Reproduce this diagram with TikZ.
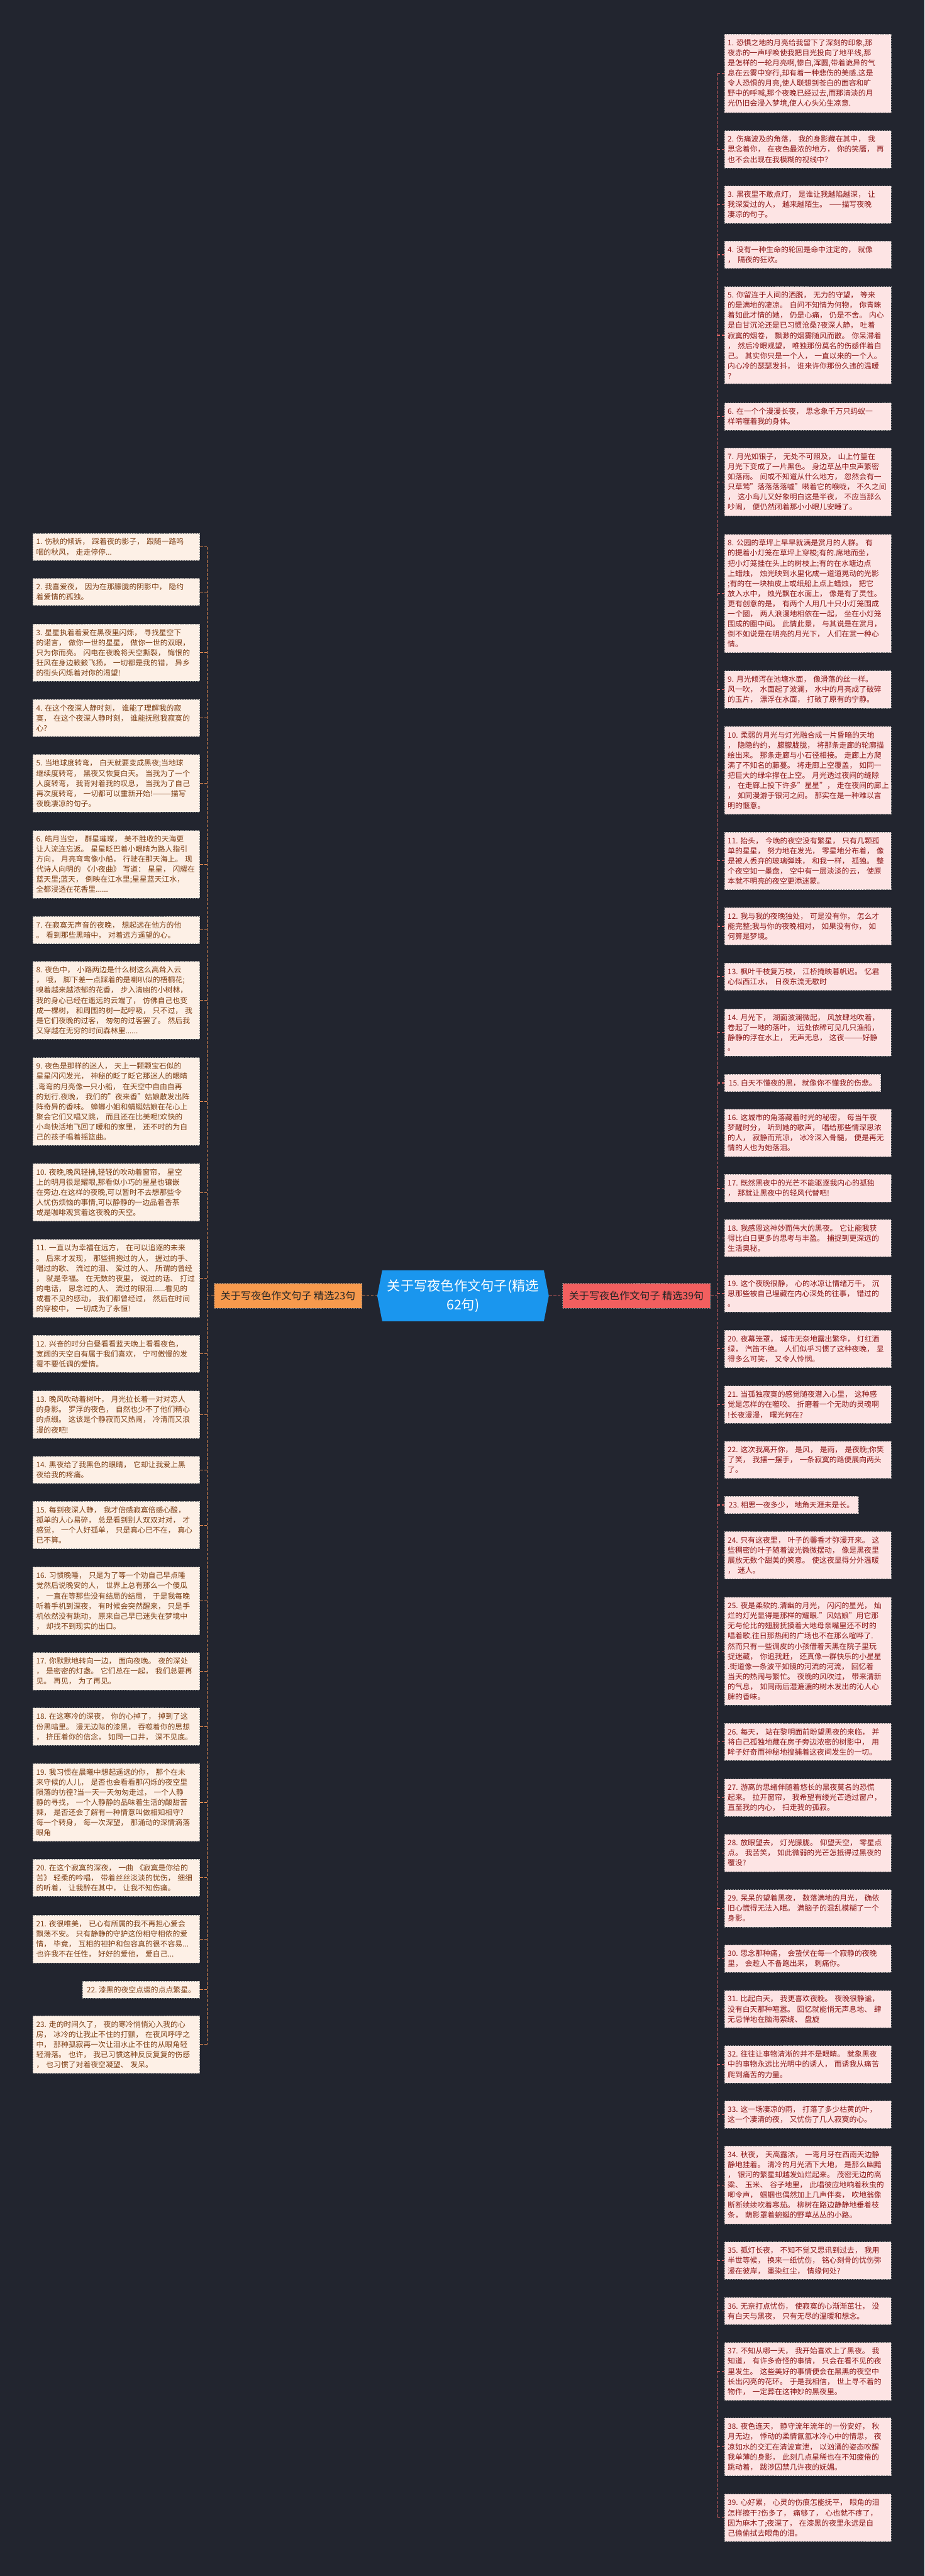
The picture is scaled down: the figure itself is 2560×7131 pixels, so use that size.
\documentclass[tikz,border=0pt]{standalone}
\usepackage{fontspec}
\setmainfont{Noto Sans CJK SC}
\usetikzlibrary{shapes.symbols}

\definecolor{bgnavy}{RGB}{34,37,47}
\definecolor{rootblue}{RGB}{26,150,238}
\definecolor{branchorange}{RGB}{247,154,77}
\definecolor{branchred}{RGB}{242,95,95}
\definecolor{lleaffill}{RGB}{253,240,230}
\definecolor{rleaffill}{RGB}{253,228,228}
\definecolor{ltext}{RGB}{125,62,20}
\definecolor{rtext}{RGB}{140,22,22}
\definecolor{lline}{RGB}{232,140,80}
\definecolor{rline}{RGB}{224,100,100}

\tikzset{
  leaf/.style={rectangle, draw=black!45, dash pattern=on 2pt off 1.5pt, line width=0.7pt,
    inner xsep=4.5pt, inner ysep=7pt, align=left, text width=222pt,
    font=\fontsize{10.3pt}{14pt}\selectfont},
  rleaf/.style={leaf, fill=rleaffill, text=rtext, anchor=west},
  lleaf/.style={leaf, fill=lleaffill, text=ltext, anchor=east},
  oneline/.style={text width={}, inner xsep=6pt},
  branch/.style={rectangle, draw=black!50, dash pattern=on 2pt off 1.5pt, line width=0.7pt,
    minimum width=204.5pt, minimum height=34pt, font=\fontsize{14pt}{16pt}\selectfont},
  link/.style={line width=1pt, dash pattern=on 4pt off 2pt}
}

\begin{document}
\begin{tikzpicture}[x=0.5pt, y=-0.5pt]
  \fill[bgnavy] (0,0) rectangle (2560,7131);

  % centre and branches
  \node[signal, signal to=west and east, signal pointer angle=158, fill=rootblue, text=white,
    minimum width=237.5pt, minimum height=70.5pt, inner sep=2pt, align=center,
    font=\fontsize{18.5pt}{26pt}\selectfont] (root) at (1282,3587) {关于写夜色作文句子(精选\\62句)};
  \node[branch, fill=branchorange, text=black!85] (lbranch) at (797.5,3587) {关于写夜色作文句子 精选23句};
  \node[branch, fill=branchred, text=black!85] (rbranch) at (1762,3587) {关于写夜色作文句子 精选39句};

  \coordinate (ltrunk) at (573,3587);
  \coordinate (rtrunk) at (1986,3587);

  % right leaves
  \node[rleaf] (r1) at (2005,203) {1.~恐惧之地的月亮给我留下了深刻的印象,那\\夜赤的一声呼唤使我把目光投向了地平线,那\\是怎样的一轮月亮啊,惨白,浑圆,带着诡异的气\\息在云雾中穿行,却有着一种悲伤的美感.这是\\令人恐惧的月亮,使人联想到苍白的面容和旷\\野中的呼喊,那个夜晚已经过去,而那清淡的月\\光仍旧会浸入梦境,使人心头沁生凉意.};
  \node[rleaf] (r2) at (2005,413.5) {2.~伤痛波及的角落，~我的身影藏在其中，~我\\思念着你，~在夜色最浓的地方，~你的笑靥，~再\\也不会出现在我模糊的视线中？};
  \node[rleaf] (r3) at (2005,566.5) {3.~黑夜里不敢点灯，~是谁让我越陷越深，~让\\我深爱过的人，~越来越陌生。~——描写夜晚\\凄凉的句子。};
  \node[rleaf] (r4) at (2005,705) {4.~没有一种生命的轮回是命中注定的，~就像\\，~隔夜的狂欢。};
  \node[rleaf] (r5) at (2005,928) {5.~你留连于人间的洒脱，~无力的守望，~等来\\的是满地的凄凉。~自问不知情为何物，~你青睐\\着如此才情的她，~仍是心痛，~仍是不舍。~内心\\是自甘沉沦还是已习惯沧桑?夜深人静，~吐着\\寂寞的烟卷，~飘渺的烟雾随风而散。~你呆滞着\\，~然后冷眼观望，~唯独那份莫名的伤感伴着自\\己。~其实你只是一个人，~一直以来的一个人。\\内心冷的瑟瑟发抖，~谁来许你那份久违的温暖\\？};
  \node[rleaf] (r6) at (2005,1153) {6.~在一个个漫漫长夜，~思念象千万只蚂蚁一\\样啃噬着我的身体。};
  \node[rleaf] (r7) at (2005,1334) {7.~月光如银子，~无处不可照及，~山上竹篁在\\月光下变成了一片黑色。~身边草丛中虫声繁密\\如落雨。~间或不知道从什么地方，~忽然会有一\\只草莺"落落落落嘘"啭着它的喉咙，~不久之间\\，~这小鸟儿又好象明白这是半夜，~不应当那么\\吵闹，~便仍然闭着那小小眼儿安睡了。};
  \node[rleaf] (r8) at (2005,1643) {8.~公园的草坪上早早就满是赏月的人群。~有\\的提着小灯笼在草坪上穿梭;有的.席地而坐，\\把小灯笼挂在头上的树枝上;有的在水塘边点\\上蜡烛，~烛光映到水里化成一道道晃动的光影\\;有的在一块柚皮上或纸船上点上蜡烛，~把它\\放入水中，~烛光飘在水面上，~像是有了灵性。\\更有创意的是，~有两个人用几十只小灯笼围成\\一个圈，~两人浪漫地相依在一起，~坐在小灯笼\\围成的圈中间。~此情此景，~与其说是在赏月，\\倒不如说是在明亮的月光下，~人们在赏一种心\\情。};
  \node[rleaf] (r9) at (2005,1909) {9.~月光倾泻在池塘水面，~像滑落的丝一样。\\风一吹，~水面起了波澜，~水中的月亮成了破碎\\的玉片，~漂浮在水面，~打破了原有的宁静。};
  \node[rleaf] (r10) at (2005,2132.5) {10.~柔弱的月光与灯光融合成一片昏暗的天地\\，~隐隐约约，~朦朦胧胧，~将那条走廊的轮廓描\\绘出来。~那条走廊与小石径相接。~走廊上方爬\\满了不知名的藤蔓。~将走廊上空覆盖，~如同一\\把巨大的绿伞撑在上空。~月光透过夜间的缝隙\\，~在走廊上投下许多"星星"，~走在夜间的廊上\\，~如同漫游于银河之间。~那实在是一种难以言\\明的惬意。};
  \node[rleaf] (r11) at (2005,2383) {11.~抬头，~今晚的夜空没有繁星，~只有几颗孤\\单的星星，~努力地在发光，~零星地分布着，~像\\是被人丢弃的玻璃弹珠，~和我一样，~孤独。~整\\个夜空如一墨盘，~空中有一层淡淡的云，~使原\\本就不明亮的夜空更添迷蒙。};
  \node[rleaf] (r12) at (2005,2564.5) {12.~我与我的夜晚独处，~可是没有你，~怎么才\\能完整;我与你的夜晚相对，~如果没有你，~如\\何算是梦境。};
  \node[rleaf] (r13) at (2005,2703.5) {13.~枫叶千枝复万枝，~江桥掩映暮帆迟。~忆君\\心似西江水，~日夜东流无歇时};
  \node[rleaf] (r14) at (2005,2858) {14.~月光下，~湖面波澜微起，~风放肆地吹着，\\卷起了一地的落叶，~远处依稀可见几只渔船，\\静静的浮在水上，~无声无息，~这夜———好静\\。};
  \node[rleaf, oneline] (r15) at (2005,2998) {15.~白天不懂夜的黑，~就像你不懂我的伤悲。};
  \node[rleaf] (r16) at (2005,3136) {16.~这城市的角落藏着时光的秘密，~每当午夜\\梦醒时分，~听到她的歌声，~唱给那些情深思浓\\的人，~寂静而荒凉，~冰冷深入骨髓，~便是再无\\情的人也为她落泪。};
  \node[rleaf] (r17) at (2005,3289) {17.~既然黑夜中的光芒不能驱逐我内心的孤独\\，~那就让黑夜中的轻风代替吧!};
  \node[rleaf] (r18) at (2005,3427.5) {18.~我感恩这神妙而伟大的黑夜。~它让能我获\\得比白日更多的思考与丰盈。~捕捉到更深远的\\生活奥秘。};
  \node[rleaf] (r19) at (2005,3580.5) {19.~这个夜晚很静，~心的冰凉让情绪万千，~沉\\思那些被自己埋藏在内心深处的往事，~错过的\\。};
  \node[rleaf] (r20) at (2005,3734) {20.~夜幕笼罩，~城市无奈地露出繁华，~灯红酒\\绿，~汽笛不绝。~人们似乎习惯了这种夜晚，~显\\得多么可笑，~又令人怜悯。};
  \node[rleaf] (r21) at (2005,3888.5) {21.~当孤独寂寞的感觉随夜潜入心里，~这种感\\觉是怎样的在噬咬、~折磨着一个无助的灵魂啊\\!长夜漫漫，~曙光何在?};
  \node[rleaf] (r22) at (2005,4041) {22.~这次我离开你，~是风，~是雨，~是夜晚;你笑\\了笑，~我摆一摆手，~一条寂寞的路便展向两头\\了。};
  \node[rleaf, oneline] (r23) at (2005,4166) {23.~相思一夜多少，~地角天涯未是长。};
  \node[rleaf] (r24) at (2005,4305) {24.~只有这夜里，~叶子的馨香才弥漫开来。~这\\些稠密的叶子随着波光微微摆动，~像是黑夜里\\展放无数个甜美的笑意。~使这夜显得分外温暖\\，~迷人。};
  \node[rleaf] (r25) at (2005,4571) {25.~夜是柔软的.清幽的月光，~闪闪的星光，~灿\\烂的灯光显得是那样的耀眼."风姑娘"用它那\\无与伦比的翅膀抚摸着大地母亲嘴里还不时的\\唱着歌.往日那热闹的广场也不在那么喧哗了.\\然而只有一些调皮的小孩借着天黑在院子里玩\\捉迷藏，~你追我赶，~还真像一群快乐的小星星\\.街道像一条波平如镜的河流的河流，~回忆着\\当天的热闹与繁忙。~夜晚的风吹过，~带来清新\\的气息，~如同雨后湿漉漉的树木发出的沁人心\\脾的香味。};
  \node[rleaf] (r26) at (2005,4822) {26.~每天，~站在黎明面前盼望黑夜的来临，~并\\将自己孤独地藏在房子旁边浓密的树影中，~用\\眸子好奇而神秘地搜捕着这夜间发生的一切。};
  \node[rleaf] (r27) at (2005,4976.5) {27.~游离的思绪伴随着悠长的黑夜莫名的恐慌\\起来。~拉开窗帘，~我希望有缕光芒透过窗户，\\直至我的内心，~扫走我的孤寂。};
  \node[rleaf] (r28) at (2005,5129.5) {28.~放眼望去，~灯光朦胧。~仰望天空，~零星点\\点。~我苦笑，~如此微弱的光芒怎抵得过黑夜的\\覆没?};
  \node[rleaf] (r29) at (2005,5282.5) {29.~呆呆的望着黑夜，~数落满地的月光，~确依\\旧心慌得无法入眠。~满脑子的混乱模糊了一个\\身影。};
  \node[rleaf] (r30) at (2005,5422) {30.~思念那种痛，~会蛰伏在每一个寂静的夜晚\\里，~会趁人不备跑出来，~刺痛你。};
  \node[rleaf] (r31) at (2005,5561.5) {31.~比起白天，~我更喜欢夜晚。~夜晚很静谧，\\没有白天那种喧嚣。~回忆就能悄无声息地、~肆\\无忌惮地在脑海萦绕、~盘旋};
  \node[rleaf] (r32) at (2005,5714.5) {32.~往往让事物清淅的并不是眼睛。~就象黑夜\\中的事物永远比光明中的诱人，~而诱我从痛苦\\爬到痛苦的力量。};
  \node[rleaf] (r33) at (2005,5853.5) {33.~这一场凄凉的雨，~打落了多少枯黄的叶，\\这一个凄清的夜，~又忧伤了几人寂寞的心。};
  \node[rleaf] (r34) at (2005,6048.5) {34.~秋夜，~天高露浓，~一弯月牙在西南天边静\\静地挂着。~清冷的月光洒下大地，~是那么幽黯\\，~银河的繁星却越发灿烂起来。~茂密无边的高\\粱、~玉米、~谷子地里，~此唱彼应地响着秋虫的\\唧令声，~蝈蝈也偶然加上几声伴奏，~吹地翁像\\断断续续吹着寒茄。~柳树在路边静静地垂着枝\\条，~荫影罩着蜿蜒的野草丛丛的小路。};
  \node[rleaf] (r35) at (2005,6258) {35.~孤灯长夜，~不知不觉又思讯到过去，~我用\\半世等候，~换来一纸忧伤，~铭心刻骨的忧伤弥\\漫在彼岸，~墨染红尘，~情缘何处?};
  \node[rleaf] (r36) at (2005,6397.5) {36.~无奈打点忧伤，~使寂寞的心渐渐茁壮，~没\\有白天与黑夜，~只有无尽的温暖和想念。};
  \node[rleaf] (r37) at (2005,6564.5) {37.~不知从哪一天，~我开始喜欢上了黑夜。~我\\知道，~有许多奇怪的事情，~只会在看不见的夜\\里发生。~这些美好的事情便会在黑黑的夜空中\\长出闪亮的花环。~于是我相信，~世上寻不着的\\物件，~一定葬在这神妙的黑夜里。};
  \node[rleaf] (r38) at (2005,6773.5) {38.~夜色连天，~静守流年流年的一份安好，~秋\\月无边，~悸动的柔情氤氲冰冷心中的情思，~夜\\凉如水的交汇在清波宣泄，~以汹涌的姿态吹醒\\我单薄的身影，~此刻几点星稀也在不知疲倦的\\跳动着，~跋涉囚禁几许夜的妩媚。};
  \node[rleaf] (r39) at (2005,6970) {39.~心好累，~心灵的伤痕怎能抚平，~眼角的泪\\怎样擦干?伤多了，~痛够了，~心也就不疼了，\\因为麻木了;夜深了，~在漆黑的夜里永远是自\\己偷偷拭去眼角的泪。};

  % left leaves
  \node[lleaf] (l1) at (554,1514) {1.~伤秋的倾诉，~踩着夜的影子，~跟随一路呜\\咽的秋风，~走走停停...};
  \node[lleaf] (l2) at (554,1638.5) {2.~我喜爱夜，~因为在那朦胧的阴影中，~隐约\\着爱情的孤独。};
  \node[lleaf] (l3) at (554,1806.5) {3.~星星执着着爱在黑夜里闪烁，~寻找星空下\\的诺言，~做你一世的星星，~做你一世的双眼，\\只为你而亮。~闪电在夜晚将天空撕裂，~悔恨的\\狂风在身边簌簌飞扬，~一切都是我的错，~异乡\\的街头闪烁着对你的渴望!};
  \node[lleaf] (l4) at (554,1988) {4.~在这个夜深人静时刻，~谁能了理解我的寂\\寞，~在这个夜深人静时刻，~谁能抚慰我寂寞的\\心?};
  \node[lleaf] (l5) at (554,2168.5) {5.~当地球度转弯，~白天就要变成黑夜;当地球\\继续度转弯，~黑夜又恢复白天。~当我为了一个\\人度转弯，~我背对着我的叹息，~当我为了自己\\再次度转弯，~一切都可以重新开始!———描写\\夜晚凄凉的句子。};
  \node[lleaf] (l6) at (554,2392.5) {6.~皓月当空，~群星璀璨，~美不胜收的天海更\\让人流连忘返。~星星眨巴着小眼睛为路人指引\\方向，~月亮弯弯像小船，~行驶在那天海上。~现\\代诗人向明的~《小夜曲》~写道：~星星，~闪耀在\\蓝天里;蓝天，~倒映在江水里;星星蓝天江水，\\全都浸透在花香里......};
  \node[lleaf] (l7) at (554,2574.5) {7.~在寂寞无声音的夜晚，~想起远在他方的他\\。~看到那些黑暗中，~对着远方遥望的心。};
  \node[lleaf] (l8) at (554,2769) {8.~夜色中，~小路两边是什么树这么高耸入云\\，~哦，~脚下差一点踩着的是喇叭似的梧桐花;\\嗅着越来越浓郁的花香，~步入清幽的小树林，\\我的身心已经在遥远的云端了，~仿佛自己也变\\成一棵树，~和周围的树一起呼吸，~只不过，~我\\是它们夜晚的过客，~匆匆的过客罢了。~然后我\\又穿越在无穷的时间森林里......};
  \node[lleaf] (l9) at (554,3049.5) {9.~夜色是那样的迷人，~天上一颗颗宝石似的\\星星闪闪发光，~神秘的眨了眨它那迷人的眼睛\\.弯弯的月亮像一只小船，~在天空中自由自再\\的划行.夜晚，~我们的"夜来香"姑娘散发出阵\\阵奇异的香味。~蟑螂小姐和蜻蜓姑娘在花心上\\聚会它们又唱又跳，~而且还在比美呢!欢快的\\小鸟快活地飞回了暖和的家里，~还不时的为自\\己的孩子唱着摇篮曲。};
  \node[lleaf] (l10) at (554,3301) {10.~夜晚,晚风轻拂,轻轻的吹动着窗帘，~星空\\上的明月很是耀眼,那看似小巧的星星也镶嵌\\在旁边.在这样的夜晚,可以暂时不去想那些令\\人忧伤烦恼的事情,可以静静的一边品着香茶\\或是咖啡观赏着这夜晚的天空。};
  \node[lleaf] (l11) at (554,3539) {11.~一直以为幸福在远方，~在可以追逐的未来\\。~后来才发现，~那些拥抱过的人，~握过的手、\\唱过的歌、~流过的泪、~爱过的人、~所谓的曾经\\，~就是幸福。~在无数的夜里，~说过的话、~打过\\的电话，~思念过的人、~流过的眼泪......看见的\\或看不见的感动，~我们都曾经过，~然后在时间\\的穿梭中，~一切成为了永恒!};
  \node[lleaf] (l12) at (554,3748) {12.~兴奋的时分白昼看看蓝天晚上看看夜色，\\宽阔的天空自有属于我们喜欢，~宁可傲慢的发\\霉不要低调的爱情。};
  \node[lleaf] (l13) at (554,3916) {13.~晚风吹动着树叶，~月光拉长着一对对恋人\\的身影。~罗浮的夜色，~自然也少不了他们精心\\的点缀。~这该是个静寂而又热闹，~冷清而又浪\\漫的夜吧!};
  \node[lleaf] (l14) at (554,4069) {14.~黑夜给了我黑色的眼睛，~它却让我爱上黑\\夜给我的疼痛。};
  \node[lleaf] (l15) at (554,4222) {15.~每到夜深人静，~我才倍感寂寞倍感心酸，\\孤单的人心易碎，~总是看到别人双双对对，~才\\感觉，~一个人好孤单，~只是真心已不在，~真心\\已不算。};
  \node[lleaf] (l16) at (554,4432) {16.~习惯晚睡，~只是为了等一个劝自己早点睡\\觉然后说晚安的人，~世界上总有那么一个傻瓜\\，~一直在等那些没有结局的结局，~于是我每晚\\听着手机到深夜，~有时候会突然醒来，~只是手\\机依然没有跳动，~原来自己早已迷失在梦境中\\，~却找不到现实的出口。};
  \node[lleaf] (l17) at (554,4626.5) {17.~你默默地转向一边，~面向夜晚。~夜的深处\\，~是密密的灯盏。~它们总在一起，~我们总要再\\见。~再见，~为了再见。};
  \node[lleaf] (l18) at (554,4780) {18.~在这寒冷的深夜，~你的心掉了，~掉到了这\\份黑暗里。~漫无边际的漆黑，~吞噬着你的思想\\，~挤压着你的信念，~如同一口井，~深不见底。};
  \node[lleaf] (l19) at (554,4989.5) {19.~我习惯在晨曦中想起遥远的你，~那个在未\\来守候的人儿，~是否也会看看那闪烁的夜空里\\陨落的彷徨?当一天一天匆匆走过，~一个人静\\静的寻找，~一个人静静的品味着生活的酸甜苦\\辣，~是否还会了解有一种情意叫做相知相守?\\每一个转身，~每一次深望，~那涌动的深情滴落\\眼角};
  \node[lleaf] (l20) at (554,5198) {20.~在这个寂寞的深夜，~一曲~《寂寞是你给的\\苦》~轻柔的吟唱，~带着丝丝淡淡的忧伤，~细细\\的听着，~让我醉在其中，~让我不知伤痛。};
  \node[lleaf] (l21) at (554,5367.5) {21.~夜很唯美，~已心有所属的我不再担心爱会\\飘荡不安。~只有静静的守护这份相守相依的爱\\情，~毕竟，~互相的袒护和包容真的很不容易...\\也许我不在任性，~好好的爱他，~爱自己...};
  \node[lleaf, oneline] (l22) at (554,5507.5) {22.~漆黑的夜空点缀的点点繁星。};
  \node[lleaf] (l23) at (554,5659.5) {23.~走的时间久了，~夜的寒冷悄悄沁入我的心\\房，~冰冷的让我止不住的打颤，~在夜风呼呼之\\中，~那种孤寂再一次让泪水止不住的从眼角轻\\轻滑落。~也许，~我已习惯这种反反复复的伤感\\，~也习惯了对着夜空凝望、~发呆。};

  % connectors
  \draw[link, lline] (lbranch.east) -- (root.west);
  \draw[link, rline] (root.east) -- (rbranch.west);
  \draw[link, lline] (lbranch.west) -- (ltrunk);
  \draw[link, rline] (rbranch.east) -- (rtrunk);
  \draw[link, lline] (ltrunk |- l1.east) -- (ltrunk |- l23.east);
  \draw[link, rline] (rtrunk |- r1.west) -- (rtrunk |- r39.west);
  \foreach \i in {1,...,23}{
    \draw[link, lline] (l\i.east) -- (ltrunk |- l\i.east);
  }
  \foreach \i in {1,...,39}{
    \draw[link, rline] (rtrunk |- r\i.west) -- (r\i.west);
  }
\end{tikzpicture}
\end{document}
